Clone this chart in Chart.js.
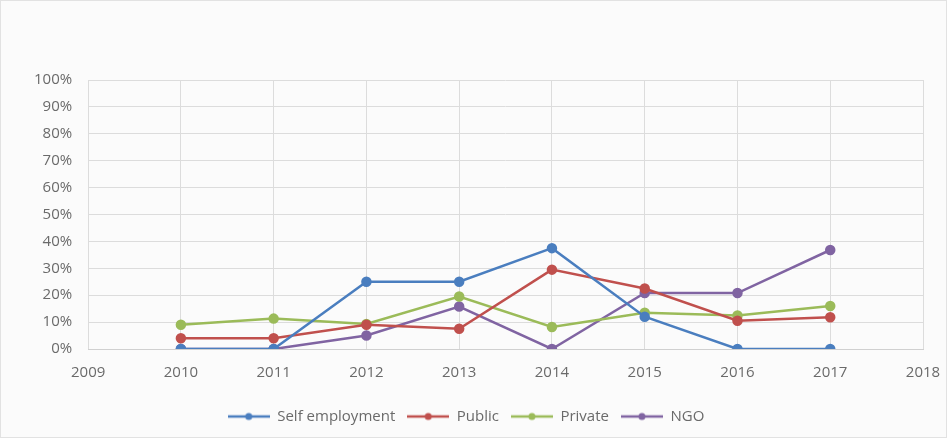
<!DOCTYPE html>
<html>
<head>
<meta charset="utf-8">
<script src="https://cdn.jsdelivr.net/npm/chart.js@4"></script>
<style>
  html, body { margin: 0; padding: 0; background: #fff; }
  #wrap { position: relative; width: 945px; height: 436px; border: 1px solid #e2e2e2; background: #fbfbfb; }
</style>
</head>
<body>
<div id="wrap"><canvas id="chart"></canvas></div>
<script>
// years on the x axis
const years = [2010, 2011, 2012, 2013, 2014, 2015, 2016, 2017];
// share of graduates per sector (%)
const selfEmployment = [0, 0, 25, 25, 37.5, 12, 0, 0];
const publicSector = [4, 4, 9, 7.5, 29.5, 22.5, 10.5, 11.8];
const privateSector = [9, 11.3, 9.3, 19.5, 8.2, 13.5, 12.5, 16];
const ngo = [0, 0, 5, 15.8, 0, 20.8, 20.8, 36.8];

const font = { family: '"Open Sans", sans-serif', size: 15 };

// legend symbol: short line with a dot in the middle
function legendIcon(color) {
  const c = document.createElement('canvas');
  c.width = 42; c.height = 10;
  const g = c.getContext('2d');
  g.strokeStyle = color; g.lineWidth = 2.5;
  g.beginPath(); g.moveTo(0, 5); g.lineTo(42, 5); g.stroke();
  g.fillStyle = color;
  g.beginPath(); g.arc(21, 5, 3.5, 0, Math.PI * 2); g.fill();
  return c;
}

function series(label, values, color) {
  return {
    label: label,
    data: years.map((y, i) => ({ x: y, y: values[i] })),
    borderColor: color,
    backgroundColor: color,
    borderWidth: 2.5,
    pointRadius: 4,
    pointHoverRadius: 4,
    tension: 0
  };
}

// the legend in the original sits a little left of centre
const legendShift = {
  id: 'legendShift',
  afterLayout(chart) {
    chart.legend.left -= 16;
    chart.legend.right -= 16;
  }
};

new Chart(document.getElementById('chart'), {
  type: 'line',
  data: {
    datasets: [
      series('Self employment', selfEmployment, '#4a7ebf'),
      series('Public', publicSector, '#c0504d'),
      series('Private', privateSector, '#9bbb59'),
      series('NGO', ngo, '#8064a2')
    ]
  },
  plugins: [legendShift],
  options: {
    responsive: true,
    maintainAspectRatio: false,
    animation: false,
    layout: { padding: { left: 17, right: 0, top: 79, bottom: 3 } },
    scales: {
      x: {
        type: 'linear',
        min: 2009,
        max: 2018,
        afterFit: (scale) => { scale.paddingRight = 23; },
        ticks: { stepSize: 1, color: '#6a6a6a', font: { ...font, lineHeight: 0.8 }, padding: 18,
          callback: (v) => String(v) },
        grid: { color: '#dcdcdc', drawTicks: false },
        border: { color: '#d0d0d0' }
      },
      y: {
        min: 0,
        max: 100,
        ticks: { stepSize: 10, color: '#6a6a6a', font: font, padding: 16,
          callback: (v) => v + '%' },
        grid: { color: '#dcdcdc', drawTicks: false },
        border: { display: false }
      }
    },
    plugins: {
      legend: {
        position: 'bottom',
        labels: {
          color: '#6a6a6a',
          font: font,
          usePointStyle: true,
          pointStyleWidth: 42,
          padding: 12,
          generateLabels: (chart) => chart.data.datasets.map((ds, i) => ({
            text: ds.label,
            fontColor: '#6a6a6a',
            pointStyle: legendIcon(ds.borderColor),
            strokeStyle: ds.borderColor,
            fillStyle: ds.borderColor,
            lineWidth: 0,
            datasetIndex: i
          }))
        }
      },
      tooltip: { enabled: false }
    }
  }
});
</script>
</body>
</html>
